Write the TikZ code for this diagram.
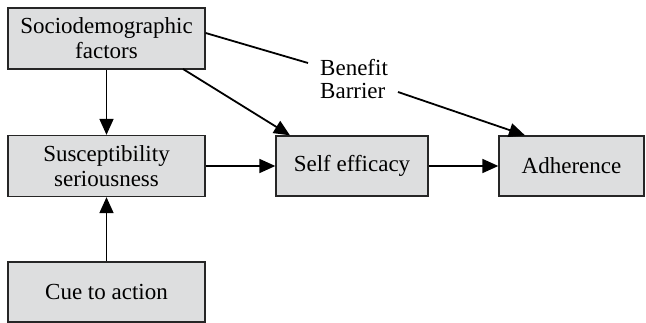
\documentclass[tikz,border=0pt]{standalone}
\usepackage{fontspec}
\setmainfont{Liberation Serif}
\usetikzlibrary{arrows.meta}
\definecolor{boxgray}{HTML}{DDDEDF}
\begin{document}
\begin{tikzpicture}[x=1pt,y=-1pt,
  box/.style={draw=black!85,line width=1.3pt,fill=boxgray,inner sep=0pt,align=center,font=\fontsize{23}{25}\selectfont},
  arr/.style={line width=1.8pt,-{Triangle[length=16pt,width=14pt]}},
  ln/.style={line width=1.8pt}]
\useasboundingbox (0,0) rectangle (646,323);
\node[box,minimum width=197pt,minimum height=61pt] (soc) at (106.5,38.5) {Sociodemographic\\factors};
\node[box,minimum width=197pt,minimum height=61pt] (sus) at (106.5,166) {Susceptibility\\seriousness};
\node[box,minimum width=197pt,minimum height=60pt] (cue) at (106.5,292) {Cue to action};
\node[box,minimum width=152pt,minimum height=60pt] (self) at (352,166) {Self efficacy};
\node[box,minimum width=145pt,minimum height=60pt] (adh) at (571.5,166) {Adherence};
\node[font=\fontsize{23}{23}\selectfont,align=left,inner sep=0pt,anchor=west] (bb) at (320,79) {Benefit\\Barrier};
\coordinate (bbin) at (308,63);
\coordinate (bbout) at (398,92);
\draw[ln] (soc.east |- 0,33) -- (bbin);
\draw[arr] (bbout) -- (adh.north west -| 525,0);
\draw[arr] (183,69) -- (self.north west -| 290,0);
\draw[arr] (soc.south) -- (sus.north);
\draw[arr] (cue.north) -- (sus.south);
\draw[arr] (sus.east) -- (self.west);
\draw[arr] (self.east) -- (adh.west);
\end{tikzpicture}
\end{document}
